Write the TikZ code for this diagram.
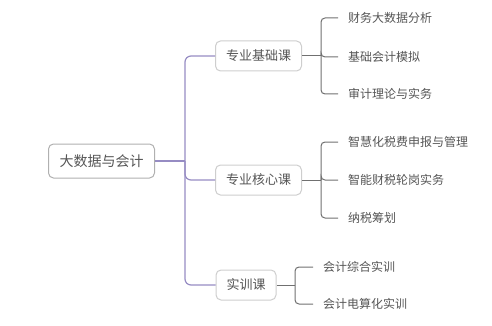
\documentclass[tikz,border=0pt]{standalone}
\usepackage{fontspec}
\setmainfont{Noto Sans CJK SC}
\usepackage{tikz}
\usetikzlibrary{positioning}
\definecolor{textGray}{RGB}{85,85,85}
\definecolor{rootBorder}{RGB}{176,176,176}
\definecolor{boxBorder}{RGB}{206,206,206}
\definecolor{trunkPurple}{RGB}{150,140,195}
\definecolor{leafLine}{RGB}{112,112,112}
\tikzset{
  rootbox/.style={
    rectangle, rounded corners=5pt, draw=rootBorder, line width=1pt,
    fill=white, text=textGray, inner xsep=11pt, minimum height=34pt,
    font=\fontsize{14pt}{16pt}\selectfont
  },
  coursebox/.style={
    rectangle, rounded corners=5pt, draw=boxBorder, line width=1pt,
    fill=white, text=textGray, inner xsep=10.5pt, minimum height=30pt,
    font=\fontsize{13pt}{15pt}\selectfont
  },
  leafnode/.style={
    anchor=west, inner xsep=10pt, inner ysep=2pt, text=textGray,
    font=\fontsize{12pt}{14pt}\selectfont
  },
  trunkLink/.style={draw=trunkPurple, line width=1.2pt, rounded corners=6pt},
  leafLink/.style={draw=leafLine, line width=1pt, rounded corners=4pt}
}
\begin{document}
\begin{tikzpicture}[x=1pt, y=-1pt]
        \useasboundingbox (0,0) rectangle (492,326);
        % root and courses
        \node[rootbox] (root) at (101.5,161) {大数据与会计};
        \node[coursebox] (basic) at (258.5,56) {专业基础课};
        \node[coursebox] (core) at (258.5,180) {专业核心课};
        \node[coursebox] (train) at (246,285) {实训课};
        \coordinate (hub) at (185,161);
        \draw[trunkLink] (root.east) -- (hub);
        \draw[trunkLink] (hub) |- (basic.west);
        \draw[trunkLink] (hub) |- (core.west);
        \draw[trunkLink] (hub) |- (train.west);
        % leaves
        \node[leafnode] (b1) at (338,18) {财务大数据分析};
        \node[leafnode] (b2) at (338,57) {基础会计模拟};
        \node[leafnode] (b3) at (338,94) {审计理论与实务};
        \node[leafnode] (c1) at (338,142) {智慧化税费申报与管理};
        \node[leafnode] (c2) at (338,180) {智能财税轮岗实务};
        \node[leafnode] (c3) at (338,218) {纳税筹划};
        \node[leafnode] (t1) at (313,267) {会计综合实训};
        \node[leafnode] (t2) at (313,304) {会计电算化实训};
        \coordinate (hb) at (321,56);
        \coordinate (hc) at (321,180);
        \coordinate (ht) at (295,285);
        \draw[leafLink] (basic.east) -- (hb);
        \foreach \leaf in {b1,b2,b3}
          \draw[leafLink] (hb) |- (\leaf.west);
        \draw[leafLink] (core.east) -- (hc);
        \foreach \leaf in {c1,c2,c3}
          \draw[leafLink] (hc) |- (\leaf.west);
        \draw[leafLink] (train.east) -- (ht);
        \foreach \leaf in {t1,t2}
          \draw[leafLink] (ht) |- (\leaf.west);
\end{tikzpicture}
\end{document}
